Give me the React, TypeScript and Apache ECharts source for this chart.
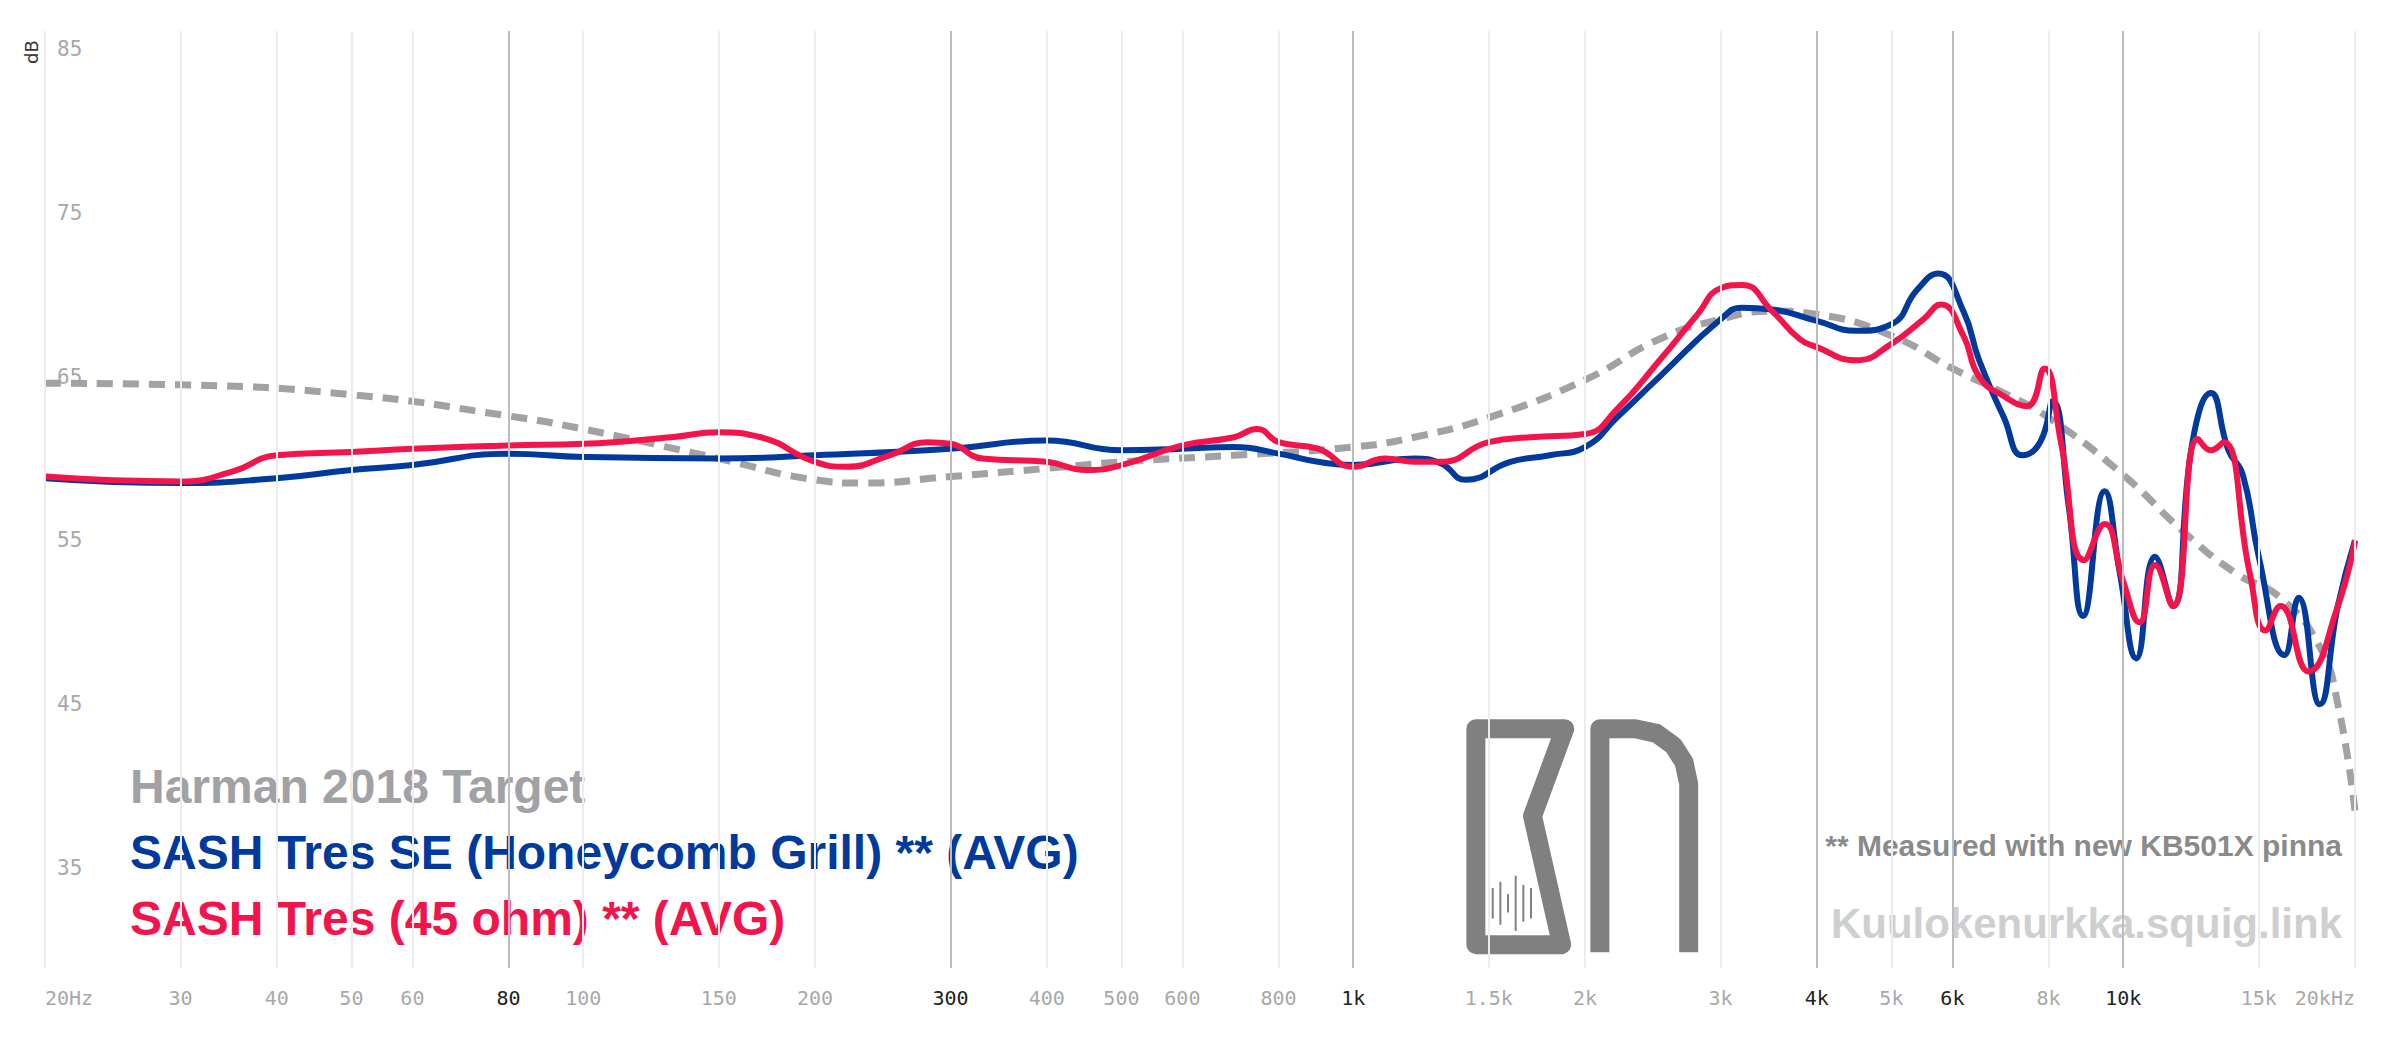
import React, { useEffect, useRef } from 'react';
import * as echarts from 'echarts';

const tickFreqs = [20, 30, 40, 50, 60, 80, 100, 150, 200, 300, 400, 500, 600, 800, 1000, 1500, 2000, 3000, 4000, 5000, 6000, 8000, 10000, 15000, 20000];
const darkFreqs = [80, 300, 1000, 4000, 6000, 10000];
const yTicks = [35, 45, 55, 65, 75, 85];

const harman: [number, number][] = [
  [20, 64.6], [30, 64.5], [50, 63.9], [80, 62.6], [100, 61.8], [150, 60.0], [200, 58.7], [230, 58.5],
  [300, 58.9], [400, 59.4], [500, 59.8], [700, 60.2], [1000, 60.7], [1200, 61.3], [1500, 62.5], [2000, 64.8],
  [2500, 67.3], [3000, 68.5], [3500, 69.0], [4000, 68.8], [5000, 67.5], [6000, 65.5], [7000, 64.0], [8000, 62.5],
  [10000, 59.0], [12000, 55.5], [14000, 53.0], [16000, 51.5], [18000, 48.5], [19000, 45], [20000, 38.5],
];

const sashSE: [number, number][] = [
  [20, 58.8], [30, 58.5], [40, 58.8], [50, 59.3], [60, 59.6], [80, 60.3], [100, 60.1], [150, 60.0], [200, 60.2],
  [300, 60.6], [400, 61.1], [500, 60.5], [600, 60.6], [700, 60.7], [800, 60.3], [900, 59.8], [1000, 59.6],
  [1200, 60.0], [1300, 59.7], [1400, 58.7], [1600, 59.8], [1800, 60.2], [2000, 60.7], [2200, 62.5], [2500, 65],
  [3000, 68.5], [3200, 69.2], [3500, 69.1], [4000, 68.4], [4500, 67.8], [5000, 68.2], [5400, 70.3], [5750, 71.3],
  [6200, 69], [6500, 66], [7000, 62.5], [7400, 60.2], [7800, 61], [8100, 63.5], [8500, 57], [8870, 50.4],
  [9460, 58], [9900, 53], [10400, 47.8], [11000, 54], [11600, 51], [12300, 61], [13000, 64], [13700, 60.5],
  [14300, 59], [15000, 54], [16200, 48], [16900, 51.5], [18000, 45], [19000, 51], [20000, 55],
];

const sash45: [number, number][] = [
  [20, 58.9], [30, 58.6], [35, 59.2], [40, 60.2], [50, 60.4], [60, 60.6], [80, 60.8], [100, 60.9], [130, 61.3],
  [150, 61.6], [170, 61.3], [200, 59.8], [220, 59.5], [250, 60.2], [280, 61.0], [300, 60.9], [330, 60.0],
  [400, 59.8], [450, 59.3], [500, 59.6], [600, 60.8], [700, 61.3], [750, 61.8], [800, 61.0], [900, 60.6],
  [1000, 59.5], [1100, 60.0], [1200, 59.8], [1300, 59.8], [1500, 61.0], [1700, 61.3], [2000, 61.5], [2200, 63],
  [2500, 66], [2800, 68.8], [3000, 70.4], [3200, 70.6], [3500, 69.0], [3800, 67.3], [4000, 66.8], [4500, 66.0],
  [5000, 67.0], [5500, 68.5], [5800, 69.4], [6200, 67.5], [6500, 65], [7000, 63.8], [7500, 63.2], [7900, 65.5],
  [8300, 61], [8900, 53.8], [9460, 56], [10000, 52.5], [10500, 50], [11000, 53.5], [11600, 51], [12500, 61.2],
  [13000, 60.5], [13500, 61], [14600, 53], [15300, 49.5], [16000, 51], [17400, 47], [19000, 51], [20000, 55],
];

const labelFor = (v: number) => {
  if (v === 20) return '20Hz';
  if (v === 20000) return '20kHz';
  if (v >= 1000) return v / 1000 + 'k';
  return String(v);
};

// logo drawn in reference-screen units, scaled into chart pixels
const S = 1.531;
const p = (pts: number[][]) => pts.map(([x, y]) => [x * S - 8, y * S - 8]);

const App: React.FC = () => {
  const ref = useRef<HTMLDivElement>(null);

  useEffect(() => {
    const chart = echarts.init(ref.current!, null, { renderer: 'svg' });
    const option: any = {
      animation: false,
      backgroundColor: '#fff',
      grid: { left: 37, right: 37, top: 23, bottom: 62 },
      xAxis: {
        type: 'log',
        min: 20,
        max: 20000,
        axisLine: { show: false },
        axisTick: { show: false },
        splitLine: { show: false },
        axisLabel: {
          customValues: tickFreqs,
          margin: 20,
          alignMinLabel: 'left',
          alignMaxLabel: 'right',
          formatter: (v: number) =>
            darkFreqs.includes(v) ? `{d|${labelFor(v)}}` : `{l|${labelFor(v)}}`,
          rich: {
            d: { color: '#222', fontFamily: 'DejaVu Sans Mono', fontSize: 20 },
            l: { color: '#a8a8a8', fontFamily: 'DejaVu Sans Mono', fontSize: 20 },
          },
        },
      },
      yAxis: {
        type: 'value',
        min: 28.9,
        max: 86.1,
        axisLine: { show: false },
        axisTick: { show: false },
        splitLine: { show: false },
        axisLabel: {
          customValues: yTicks,
          inside: true,
          margin: 12,
          color: '#a8a8a8',
          fontFamily: 'DejaVu Sans Mono',
          fontSize: 21,
        },
      },
      graphic: [
        { type: 'text', x: 14, y: 56, rotation: Math.PI / 2, style: { text: 'dB', fill: '#333', font: '18px "DejaVu Sans"' } },
        { type: 'text', left: 122, top: 754, style: { text: 'Harman 2018 Target', fill: '#a2a1a6', font: 'bold 48px "Liberation Sans"' } },
        { type: 'text', left: 122, top: 820, style: { text: 'SASH Tres SE (Honeycomb Grill) ** (AVG)', fill: '#003a9c', font: 'bold 48px "Liberation Sans"' } },
        { type: 'text', left: 122, top: 886, style: { text: 'SASH Tres (45 ohm) ** (AVG)', fill: '#f2144a', font: 'bold 48px "Liberation Sans"' } },
        { type: 'text', right: 50, top: 822, style: { text: '** Measured with new KB501X pinna', fill: '#8a8a8a', font: 'bold 30px "Liberation Sans"' } },
        { type: 'text', right: 50, top: 894, style: { text: 'Kuulokenurkka.squig.link', fill: '#cfcfcf', font: 'bold 42px "Liberation Sans"' } },
        {
          type: 'polygon',
          shape: { points: p([[964, 476], [1022, 476], [1001, 533], [1020, 617], [964, 617]]) },
          style: { fill: 'none', stroke: '#808080', lineWidth: 19, lineJoin: 'round' },
        },
        {
          type: 'polyline',
          shape: { points: p([[1045, 622], [1045, 476], [1068, 476], [1082, 479], [1093, 487], [1100, 498], [1103, 512], [1103, 622]]) },
          style: { fill: 'none', stroke: '#808080', lineWidth: 19, lineJoin: 'round' },
        },
        ...[[975, 580, 600], [980, 576, 604], [985, 584, 596], [990, 572, 608], [995, 578, 602], [1000, 580, 600]].map(([x, a, b]) => ({
          type: 'line',
          shape: { x1: x * S - 8, y1: a * S - 8, x2: x * S - 8, y2: b * S - 8 },
          style: { stroke: '#808080', lineWidth: 2 },
        })),
      ],
      series: [
        {
          type: 'line',
          data: [],
          silent: true,
          markLine: {
            silent: true,
            symbol: 'none',
            label: { show: false },
            data: tickFreqs.map((f) => ({
              xAxis: f,
              lineStyle: { color: darkFreqs.includes(f) ? '#bdbdbd' : '#ececec', width: 2, type: 'solid' },
            })),
          },
          z: 1,
        },
        {
          type: 'line', data: harman, smooth: true, showSymbol: false, z: 2,
          lineStyle: { color: '#a2a1a6', width: 7, type: [16, 10] },
        },
        {
          type: 'line', data: sashSE, smooth: true, showSymbol: false, z: 3,
          lineStyle: { color: '#003a9c', width: 6 },
        },
        {
          type: 'line', data: sash45, smooth: true, showSymbol: false, z: 4,
          lineStyle: { color: '#f2144a', width: 6 },
        },
      ],
    };
    chart.setOption(option);
    return () => chart.dispose();
  }, []);

  return <div ref={ref} style={{ width: 2384, height: 1022 }} />;
};

export default App;
